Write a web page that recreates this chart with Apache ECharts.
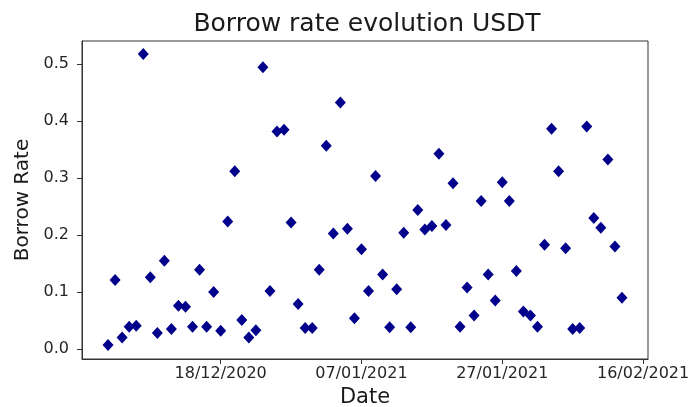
<!DOCTYPE html>
<html>
<head>
<meta charset="utf-8">
<title>Borrow rate evolution USDT</title>
<script src="https://cdn.jsdelivr.net/npm/echarts@6/dist/echarts.min.js"></script>
<style>
  html, body { margin: 0; padding: 0; background: #fff; }
  #chart { width: 689px; height: 407px; }
</style>
</head>
<body>
<div id="chart"></div>
<script>
// daily borrow rate observations
const dates = [
  '2020-12-02', '2020-12-03', '2020-12-04', '2020-12-05', '2020-12-06', '2020-12-07',
  '2020-12-08', '2020-12-09', '2020-12-10', '2020-12-11', '2020-12-12', '2020-12-13',
  '2020-12-14', '2020-12-15', '2020-12-16', '2020-12-17', '2020-12-18', '2020-12-19',
  '2020-12-20', '2020-12-21', '2020-12-22', '2020-12-23', '2020-12-24', '2020-12-25',
  '2020-12-26', '2020-12-27', '2020-12-28', '2020-12-29', '2020-12-30', '2020-12-31',
  '2021-01-01', '2021-01-02', '2021-01-03', '2021-01-04', '2021-01-05', '2021-01-06',
  '2021-01-07', '2021-01-08', '2021-01-09', '2021-01-10', '2021-01-11', '2021-01-12',
  '2021-01-13', '2021-01-14', '2021-01-15', '2021-01-16', '2021-01-17', '2021-01-18',
  '2021-01-19', '2021-01-20', '2021-01-21', '2021-01-22', '2021-01-23', '2021-01-24',
  '2021-01-25', '2021-01-26', '2021-01-27', '2021-01-28', '2021-01-29', '2021-01-30',
  '2021-01-31', '2021-02-01', '2021-02-02', '2021-02-03', '2021-02-04', '2021-02-05',
  '2021-02-06', '2021-02-07', '2021-02-08', '2021-02-09', '2021-02-10', '2021-02-11',
  '2021-02-12', '2021-02-13'
]

const borrowRates = [
  0.007, 0.121, 0.020, 0.039, 0.041, 0.518,
  0.126, 0.028, 0.155, 0.035, 0.076, 0.074,
  0.039, 0.139, 0.039, 0.100, 0.032, 0.224,
  0.312, 0.051, 0.020, 0.033, 0.495, 0.102,
  0.382, 0.385, 0.222, 0.079, 0.037, 0.037,
  0.139, 0.357, 0.203, 0.433, 0.211, 0.054,
  0.175, 0.102, 0.304, 0.131, 0.038, 0.105,
  0.204, 0.038, 0.244, 0.210, 0.216, 0.343,
  0.218, 0.291, 0.039, 0.108, 0.059, 0.260,
  0.131, 0.085, 0.293, 0.260, 0.137, 0.066,
  0.059, 0.039, 0.183, 0.387, 0.312, 0.177,
  0.035, 0.037, 0.391, 0.230, 0.213, 0.333,
  0.180, 0.090
]

const xTickLabels = ['18/12/2020', '07/01/2021', '27/01/2021', '16/02/2021']
const yTicks = [0.0, 0.1, 0.2, 0.3, 0.4, 0.5]

const DAY = 24 * 3600 * 1000

const parseIso = (s) => {
  const [y, m, d] = s.split('-').map(Number)
  return Date.UTC(y, m - 1, d)
}
const parseDmy = (s) => {
  const [d, m, y] = s.split('/').map(Number)
  return Date.UTC(y, m - 1, d)
}
const pad = (n) => (n < 10 ? '0' : '') + n
const fmtDmy = (t) => {
  const dt = new Date(t)
  return pad(dt.getUTCDate()) + '/' + pad(dt.getUTCMonth() + 1) + '/' + dt.getUTCFullYear()
}

const xTicks = xTickLabels.map(parseDmy)
const points = dates.map((d, i) => [parseIso(d), borrowRates[i]])

const chart = echarts.init(document.getElementById('chart'))

const font = 'DejaVu Sans'
const textColor = '#262626'

chart.setOption({
  animation: false,
  backgroundColor: '#ffffff',
  title: {
    text: 'Borrow rate evolution USDT',
    left: 362,
    textAlign: 'center',
    top: 7,
    textStyle: {
      fontFamily: font,
      fontSize: 25,
      fontWeight: 'normal',
      color: '#1a1a1a'
    }
  },
  grid: {
    left: 82,
    right: 41,
    top: 41,
    bottom: 48,
    outerBoundsMode: 'none',
    containLabel: false,
    show: true,
    borderColor: '#333',
    borderWidth: 1,
    backgroundColor: 'transparent'
  },
  xAxis: {
    type: 'value',
    min: xTicks[0] - 19.7 * DAY,
    max: xTicks[3] + 0.7 * DAY,
    name: 'Date',
    nameLocation: 'middle',
    nameGap: 28,
    nameTextStyle: { fontFamily: font, fontSize: 21, color: '#1a1a1a' },
    axisLine: { show: true, onZero: false, lineStyle: { color: '#333', width: 1 } },
    axisTick: { show: true, length: 5, customValues: xTicks, lineStyle: { color: '#333' } },
    axisLabel: {
      customValues: xTicks,
      margin: 7,
      fontFamily: font,
      fontSize: 16,
      color: textColor,
      formatter: (v) => fmtDmy(v)
    },
    splitLine: { show: false }
  },
  yAxis: {
    type: 'value',
    min: -0.0176,
    max: 0.541,
    name: 'Borrow Rate',
    nameLocation: 'middle',
    nameGap: 49,
    nameTextStyle: { fontFamily: font, fontSize: 20, color: '#1a1a1a' },
    axisLine: { show: true, onZero: false, lineStyle: { color: '#333', width: 1 } },
    axisTick: { show: true, length: 5, customValues: yTicks, lineStyle: { color: '#333' } },
    axisLabel: {
      customValues: yTicks,
      margin: 13,
      fontFamily: font,
      fontSize: 16,
      color: textColor,
      formatter: (v) => v.toFixed(1)
    },
    splitLine: { show: false }
  },
  series: [
    {
      type: 'scatter',
      data: points,
      symbol: 'diamond',
      symbolSize: [11, 12],
      itemStyle: { color: '#00008b', opacity: 1 }
    }
  ]
})
</script>
</body>
</html>
